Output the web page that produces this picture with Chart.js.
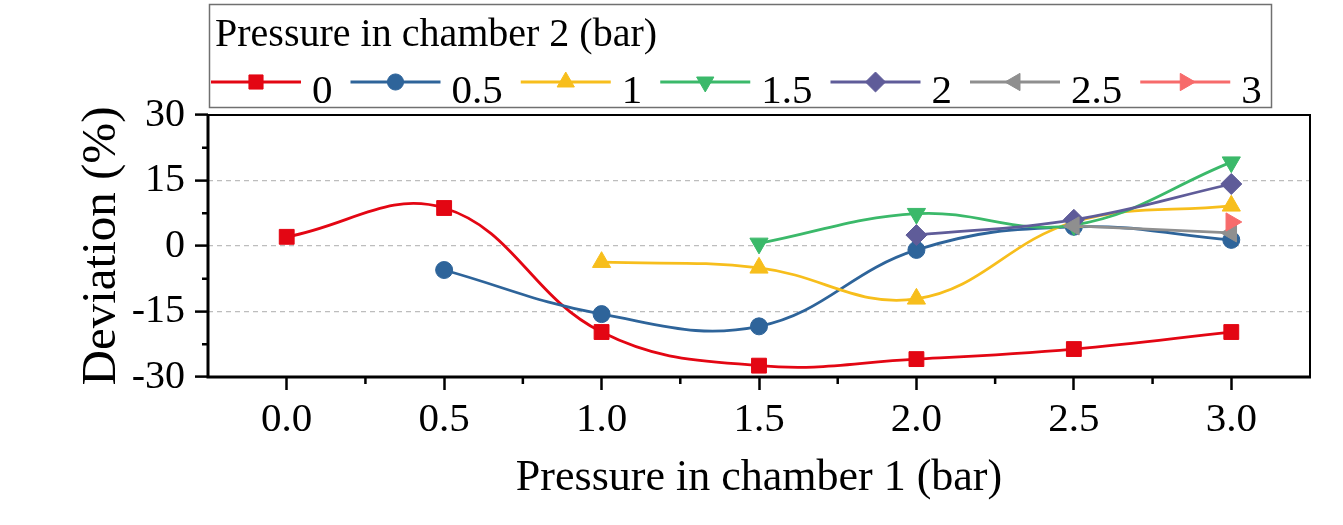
<!DOCTYPE html>
<html>
<head>
<meta charset="utf-8">
<script src="https://cdn.jsdelivr.net/npm/chart.js"></script>
<style>
  html, body { margin: 0; padding: 0; background: #fff; }
  canvas { display: block; }
</style>
</head>
<body>
<canvas id="chart" width="1343" height="525"></canvas>
<script>
// Deviation vs pressure in chamber 1, one curve per chamber 2 pressure

const pressure1   = [0, 0.5, 1.0, 1.5, 2.0, 2.5, 3.0];
const seriesNames = ['0', '0.5', '1', '1.5', '2', '2.5', '3'];

// deviation (%) at each chamber 1 pressure, null = not measured
const dev0   = [2.1, 8.7, -19.7, -27.4, -25.9, -23.6, -19.7];
const dev05  = [null, -5.5, -15.6, -18.4, -0.9, 4.4, 1.4];
const dev1   = [null, null, -3.7, -5.0, -12.1, 5.5, 9.2];
const dev15  = [null, null, null, 0.6, 7.4, 4.8, 19.2];
const dev2   = [null, null, null, null, 2.5, 6.0, 14.2];
const dev25  = [null, null, null, null, null, 4.6, 3.0];
const dev3   = [null, null, null, null, null, null, 5.5];

const seriesValues = [dev0, dev05, dev1, dev15, dev2, dev25, dev3];

const yMajor = [-30, -15, 0, 15, 30];
const yMinor = [-22.5, -7.5, 7.5, 22.5];
const xMinor = [0.25, 0.75, 1.25, 1.75, 2.25, 2.75];

const SERIF = '"Liberation Serif", "Times New Roman", serif';

const colours   = ['#E30613', '#2E649A', '#F7BE1C', '#3BB96A', '#5F5C99', '#8F8F8F', '#F76B6B'];
const markers   = ['rect', 'circle', 'triangle', 'triangle', 'rectRot', 'triangle', 'triangle'];
const rotations = [0, 0, 0, 180, 0, 270, 90];
const radii     = [10.5, 8.5, 10.5, 10.5, 10.5, 10.5, 10.5];

const datasets = seriesValues.map((vals, i) => ({
  label: seriesNames[i],
  data: pressure1.map((x, j) => ({ x, y: vals[j] })).filter(p => p.y !== null),
  borderColor: colours[i],
  backgroundColor: colours[i],
  borderWidth: 2.8,
  pointStyle: markers[i],
  pointRotation: rotations[i],
  pointRadius: radii[i],
  pointBorderWidth: 1,
  pointHoverRadius: radii[i],
  tension: 0.4,
  order: seriesValues.length - i,   // later series drawn on top
}));

function isHalf(v) {
  return Math.abs(v * 2 - Math.round(v * 2)) < 1e-9;
}

// frame round the plot, short minor ticks, boxed legend
const decorations = {
  id: 'decorations',
  afterDraw(chart) {
    const { ctx, chartArea: a, scales } = chart;
    ctx.save();

    // ── FRAME ──────────────────────────────
    ctx.strokeStyle = '#000';
    ctx.lineWidth = 2;
    ctx.beginPath();
    ctx.moveTo(a.left, a.top);
    ctx.lineTo(a.right, a.top);
    ctx.lineTo(a.right, a.bottom);
    ctx.stroke();
    ctx.lineWidth = 3;
    ctx.beginPath();
    ctx.moveTo(a.left, a.top - 1);
    ctx.lineTo(a.left, a.bottom);
    ctx.lineTo(a.right + 1, a.bottom);
    ctx.stroke();

    // ── MINOR TICKS ────────────────────────
    ctx.lineWidth = 2.5;
    ctx.beginPath();
    yMinor.forEach(v => {
      const py = scales.y.getPixelForValue(v);
      ctx.moveTo(a.left - 6, py);
      ctx.lineTo(a.left, py);
    });
    xMinor.forEach(v => {
      const px = scales.x.getPixelForValue(v);
      ctx.moveTo(px, a.bottom);
      ctx.lineTo(px, a.bottom + 7);
    });
    ctx.stroke();

    // ── LEGEND ─────────────────────────────
    ctx.strokeStyle = '#707070';
    ctx.lineWidth = 1.5;
    ctx.strokeRect(209.5, 4.5, 1062, 103);

    ctx.fillStyle = '#000';
    ctx.textBaseline = 'alphabetic';
    ctx.textAlign = 'left';
    ctx.font = '40px ' + SERIF;
    ctx.fillText('Pressure in chamber 2 (bar)', 215, 46);

    ctx.font = '41px ' + SERIF;
    const lineY = 82;
    let x = 211;
    chart.data.datasets.forEach(ds => {
      ctx.strokeStyle = ds.borderColor;
      ctx.lineWidth = 2.8;
      ctx.beginPath();
      ctx.moveTo(x, lineY);
      ctx.lineTo(x + 90, lineY);
      ctx.stroke();

      ctx.fillStyle = ds.backgroundColor;
      ctx.lineWidth = 1;
      Chart.helpers.drawPoint(ctx, {
        pointStyle: ds.pointStyle,
        rotation: ds.pointRotation,
        radius: ds.pointRadius * 0.95,
        borderWidth: 1,
      }, x + 45, lineY);

      ctx.fillStyle = '#000';
      ctx.fillText(ds.label, x + 101, 103);
      x += 101 + ctx.measureText(ds.label).width + 18;
    });

    ctx.restore();
  }
};

new Chart(document.getElementById('chart'), {
  type: 'line',
  data: { datasets },
  options: {
    responsive: false,
    animation: false,
    layout: { padding: { top: 115, right: 33, left: 0, bottom: 0 } },
    plugins: {
      legend: { display: false },
      tooltip: { enabled: false },
    },
    scales: {
      x: {
        type: 'linear',
        min: -0.25,
        max: 3.25,
        afterFit: s => { s.height = 148; },
        border: { display: false },
        grid: {
          drawOnChartArea: false,
          tickLength: 13,
          tickWidth: 2.5,
          tickColor: c => (c.tick && isHalf(c.tick.value) && c.tick.value >= 0 && c.tick.value <= 3)
            ? '#000' : 'rgba(0,0,0,0)',
        },
        ticks: {
          stepSize: 0.25,
          autoSkip: false,
          maxRotation: 0,
          padding: 6,
          color: '#000',
          font: { family: SERIF, size: 41 },
          callback: v => (isHalf(v) && v >= 0 && v <= 3) ? v.toFixed(1) : '',
        },
        title: {
          display: true,
          text: 'Pressure in chamber 1 (bar)',
          color: '#000',
          font: { family: SERIF, size: 44, lineHeight: 1 },
          padding: { top: 0, bottom: 25 },
        },
      },
      y: {
        type: 'linear',
        min: -30,
        max: 30,
        afterFit: s => { s.width = 208; },
        border: { display: false, dash: [5, 4] },
        grid: {
          lineWidth: 1.2,
          color: c => (c.tick && [-15, 0, 15].includes(c.tick.value)) ? '#BDBDBD' : 'rgba(0,0,0,0)',
          tickLength: 13,
          tickWidth: 2.5,
          tickColor: c => (c.tick && yMajor.includes(c.tick.value)) ? '#000' : 'rgba(0,0,0,0)',
        },
        ticks: {
          stepSize: 7.5,
          autoSkip: false,
          padding: 10,
          color: '#000',
          font: { family: SERIF, size: 40 },
          callback: v => yMajor.includes(v) ? String(v) : '',
        },
        title: {
          display: true,
          text: 'Deviation (%)',
          color: '#000',
          font: { family: SERIF, size: 49, lineHeight: 1 },
          padding: { top: 78, bottom: 0 },
        },
      },
    },
  },
  plugins: [decorations],
});
</script>
</body>
</html>
